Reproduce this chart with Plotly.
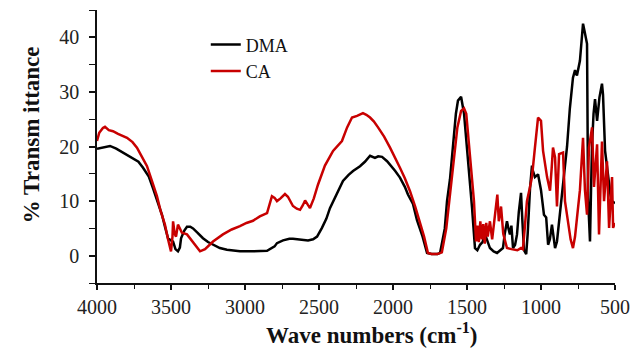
import plotly.graph_objects as go

# DMA (black) spectrum: wavenumber (cm-1) and % transmittance
dma_wn = [4000, 3950, 3912, 3870, 3845, 3800, 3757, 3720, 3689, 3650, 3622, 3590, 3561, 3540, 3520,
          3500, 3486, 3470, 3453, 3440, 3432, 3410, 3392, 3370, 3351, 3320, 3284, 3250, 3216, 3170,
          3122, 3080, 3034, 2950, 2851, 2800, 2784, 2743, 2700, 2676, 2620, 2574, 2540, 2513, 2480,
          2450, 2426, 2380, 2338, 2300, 2270, 2223, 2190, 2155, 2122, 2100, 2074, 2040, 2020, 1985,
          1953, 1920, 1899, 1865, 1838, 1800, 1770, 1740, 1700, 1682, 1650, 1635, 1615, 1594, 1575,
          1561, 1540, 1520, 1505, 1493, 1466, 1446, 1430, 1412, 1395, 1378, 1360, 1345, 1320, 1297,
          1275, 1257, 1245, 1230, 1220, 1210, 1200, 1189, 1175, 1162, 1150, 1135, 1125, 1115, 1100,
          1090, 1074, 1061, 1054, 1041, 1020, 1000, 980, 965, 952, 940, 926, 915, 905, 892,
          872, 858, 840, 824, 805, 784, 770, 757, 737, 725, 716, 705, 689, 682, 669,
          662, 655, 645, 635, 621, 605, 588, 581, 567, 547, 530, 520, 500]
dma_t = [19.6, 19.9, 20.1, 19.6, 19.2, 18.6, 17.9, 17.2, 16.1, 14.5, 12.4, 10.0, 7.5, 5.2, 3.2,
         2.8, 2.6, 1.2, 0.8, 1.5, 3.2, 4.6, 5.3, 5.3, 5.0, 4.2, 3.2, 2.5, 2.0, 1.4,
         1.1, 0.9, 0.8, 0.8, 0.9, 1.7, 2.3, 2.8, 3.1, 3.1, 2.9, 2.8, 3.0, 3.5, 5.1,
         6.8, 8.7, 11.3, 13.7, 14.8, 15.5, 16.4, 17.2, 18.3, 17.9, 18.2, 18.1, 17.3, 16.7, 15.5,
         14.3, 12.6, 11.2, 9.5, 6.5, 3.5, 0.5, 0.3, 0.3, 0.5, 5.0, 10.0, 14.0, 21.0, 26.0,
         28.4, 29.1, 26.0, 21.5, 17.3, 8.8, 1.4, 1.0, 2.0, 2.5, 3.9, 2.5, 1.4, 0.8, 0.5,
         1.0, 1.4, 4.0, 6.3, 5.0, 3.9, 5.5, 1.4, 2.0, 3.9, 8.0, 11.5, 6.0, 1.0, 0.3,
         4.0, 12.4, 16.5, 15.5, 14.4, 14.9, 12.0, 7.5, 7.0, 2.0, 3.0, 5.7, 3.5, 1.4, 2.6,
         7.5, 10.6, 15.0, 20.0, 27.0, 32.6, 34.0, 33.0, 35.7, 39.0, 42.5, 41.0, 38.8, 10.6, 2.6,
         12.0, 20.4, 26.0, 28.7, 24.7, 29.0, 31.5, 29.5, 19.2, 14.2, 11.0, 10.0, 9.6]

# CA (red) spectrum
ca_wn = [4000, 3985, 3960, 3946, 3920, 3892, 3858, 3830, 3797, 3760, 3730, 3700, 3662, 3630, 3595,
         3570, 3541, 3520, 3500, 3490, 3486, 3475, 3466, 3453, 3440, 3426, 3392, 3360, 3330, 3304,
         3270, 3240, 3216, 3149, 3090, 3034, 2990, 2946, 2900, 2851, 2830, 2818, 2800, 2784, 2760,
         2730, 2710, 2676, 2650, 2628, 2610, 2594, 2575, 2561, 2535, 2507, 2460, 2405, 2345, 2310,
         2277, 2243, 2203, 2180, 2155, 2130, 2101, 2060, 2020, 1985, 1953, 1920, 1885, 1850, 1818,
         1790, 1764, 1740, 1700, 1670, 1640, 1615, 1590, 1565, 1540, 1520, 1505, 1480, 1453, 1439,
         1430, 1420, 1410, 1400, 1390, 1380, 1370, 1360, 1345, 1330, 1311, 1295, 1285, 1270, 1255,
         1230, 1200, 1160, 1135, 1122, 1110, 1095, 1075, 1061, 1041, 1020, 1000, 986, 959, 939,
         928, 919, 905, 892, 878, 851, 838, 818, 800, 784, 770, 757, 737, 716, 703,
         689, 676, 655, 642, 621, 608, 588, 574, 554, 540, 520, 513, 500]
ca_t = [21.0, 22.5, 23.4, 23.6, 23.0, 22.8, 22.3, 22.0, 21.6, 20.8, 19.8, 18.3, 16.4, 13.8, 10.9,
        8.2, 5.7, 3.0, 0.8, 3.5, 6.3, 4.0, 3.5, 5.7, 4.8, 4.2, 3.9, 2.8, 1.8, 0.8,
        1.2, 2.0, 2.6, 3.9, 4.8, 5.4, 6.0, 6.4, 7.2, 7.8, 9.5, 10.9, 10.6, 10.0, 10.5,
        11.3, 10.8, 9.1, 8.6, 8.4, 9.2, 10.1, 9.3, 8.75, 10.5, 13.0, 16.5, 19.2, 21.0, 23.5,
        25.3, 25.6, 26.1, 25.8, 25.3, 24.6, 23.5, 21.8, 19.8, 18.0, 16.1, 14.2, 11.8, 9.0, 6.3,
        3.5, 0.5, 0.3, 0.3, 0.6, 5.0, 10.9, 18.0, 23.5, 26.5, 27.0, 26.0, 18.5, 10.0, 2.6,
        5.5, 2.5, 6.3, 3.0, 5.8, 2.2, 6.0, 3.5, 6.3, 3.0, 7.5, 11.2, 6.3, 9.0, 4.0,
        1.4, 1.2, 1.0, 1.4, 1.2, 5.0, 10.0, 12.5, 14.4, 19.8, 25.3, 24.7, 19.2, 14.4, 11.9,
        16.0, 19.8, 18.0, 9.0, 18.6, 18.9, 10.0, 6.3, 3.0, 1.4, 3.5, 6.9, 12.0, 21.6, 12.0,
        7.5, 19.8, 23.5, 12.6, 20.4, 3.9, 20.9, 10.0, 17.3, 5.1, 14.4, 5.1, 6.0]

series_names = ["DMA", "CA"]
x_ticks = [4000, 3500, 3000, 2500, 2000, 1500, 1000, 500]
y_ticks = [0, 10, 20, 30, 40]

SERIF = "Liberation Serif, Times New Roman, serif"

fig = go.Figure()
fig.add_trace(go.Scatter(x=dma_wn, y=dma_t, mode="lines", name=series_names[0],
                         line=dict(color="#000000", width=2.5)))
fig.add_trace(go.Scatter(x=ca_wn, y=ca_t, mode="lines", name=series_names[1],
                         line=dict(color="#c80000", width=2.5)))

fig.update_layout(
    width=632, height=340,
    margin=dict(l=89, r=25, t=2, b=65),
    paper_bgcolor="white", plot_bgcolor="white",
    font=dict(family=SERIF, color="#222222"),
    showlegend=True,
    legend=dict(x=0.21, y=0.94, xanchor="left", yanchor="top",
                bgcolor="rgba(0,0,0,0)", font=dict(family=SERIF, size=18, color="#111111"),
                tracegroupgap=0, itemwidth=30),
    xaxis=dict(range=[4000, 500], tickmode="array", tickvals=x_ticks,
               ticktext=[str(v) for v in x_ticks],
               showgrid=False, zeroline=False, showline=True, linecolor="#111111", linewidth=1.5,
               ticks="outside", ticklen=5, tickwidth=1.5, tickcolor="#111111",
               minor=dict(dtick=250, ticks="outside", ticklen=4, tickwidth=1.2, tickcolor="#111111"),
               tickfont=dict(family=SERIF, size=20, color="#222222")),
    yaxis=dict(range=[-5, 45], tickmode="array", tickvals=y_ticks,
               showgrid=False, zeroline=False, showline=True, linecolor="#111111", linewidth=1.5,
               ticks="outside", ticklen=6, tickwidth=1.5, tickcolor="#111111",
               minor=dict(dtick=5, ticks="outside", ticklen=6, tickwidth=1.2, tickcolor="#111111"),
               ticklabelstandoff=6,
               tickfont=dict(family=SERIF, size=20, color="#222222")),
    annotations=[
        dict(text="<b>Wave numbers (cm<sup>-1</sup>)</b>", xref="paper", yref="paper",
             x=0.529, y=-0.185, xanchor="center", yanchor="middle", showarrow=False,
             font=dict(family=SERIF, size=23, color="#111111")),
        dict(text="<b>% Transm ittance</b>", xref="paper", yref="paper",
             x=-0.127, y=0.542, xanchor="center", yanchor="middle", showarrow=False,
             textangle=-90, font=dict(family=SERIF, size=23, color="#111111")),
    ],
)

fig.write_html("out.html")
